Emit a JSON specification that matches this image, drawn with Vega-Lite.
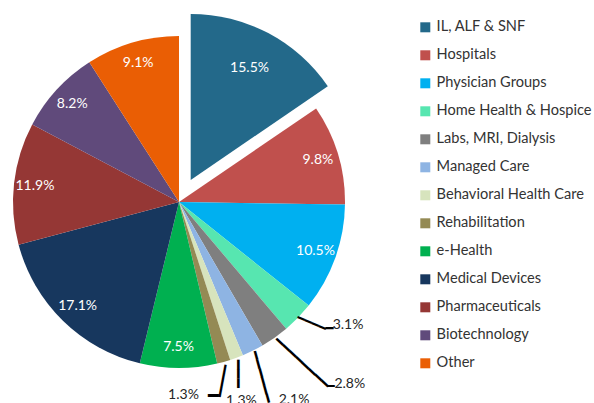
{
  "$schema": "https://vega.github.io/schema/vega-lite/v6.json",
  "width": 358,
  "height": 404,
  "autosize": {"type": "none"},
  "padding": {"left": 0, "top": 0, "right": 236, "bottom": 0},
  "background": "#ffffff",
  "config": {"view": {"stroke": null}, "font": "Lato"},
  "data": {"values": [
    {"idx": 1, "sector": "IL, ALF & SNF", "share": 0.155},
    {"idx": 2, "sector": "Hospitals", "share": 0.098},
    {"idx": 3, "sector": "Physician Groups", "share": 0.105},
    {"idx": 4, "sector": "Home Health & Hospice", "share": 0.031},
    {"idx": 5, "sector": "Labs, MRI, Dialysis", "share": 0.028},
    {"idx": 6, "sector": "Managed Care", "share": 0.021},
    {"idx": 7, "sector": "Behavioral Health Care", "share": 0.013},
    {"idx": 8, "sector": "Rehabilitation", "share": 0.013},
    {"idx": 9, "sector": "e-Health", "share": 0.075},
    {"idx": 10, "sector": "Medical Devices", "share": 0.171},
    {"idx": 11, "sector": "Pharmaceuticals", "share": 0.119},
    {"idx": 12, "sector": "Biotechnology", "share": 0.082},
    {"idx": 13, "sector": "Other", "share": 0.091}
  ]},
  "encoding": {
    "theta": {"field": "share", "type": "quantitative", "stack": true},
    "order": {"field": "idx", "type": "quantitative"}
  },
  "layer": [
    {
      "mark": {"type": "arc", "outerRadius": 166},
      "encoding": {
        "color": {
          "field": "sector", "type": "nominal",
          "scale": {
            "domain": ["IL, ALF & SNF", "Hospitals", "Physician Groups", "Home Health & Hospice", "Labs, MRI, Dialysis", "Managed Care", "Behavioral Health Care", "Rehabilitation", "e-Health", "Medical Devices", "Pharmaceuticals", "Biotechnology", "Other"],
            "range": ["#23698A", "#C0504D", "#00B0F0", "#57E6B0", "#7F7F7F", "#8EB4E3", "#D7E4BD", "#948A54", "#00B050", "#17375E", "#953735", "#604A7B", "#EA5E04"]
          },
          "legend": {
            "title": null,
            "orient": "none",
            "legendX": 418,
            "legendY": 20,
            "symbolType": "square",
            "symbolSize": 100,
            "symbolStrokeWidth": 0,
            "symbolOpacity": 1,
            "labelFont": "Lato",
            "labelFontSize": 14.6,
            "labelColor": "#333333",
            "labelOffset": 4,
            "rowPadding": 13,
            "labelLimit": 300
          }
        },
        "opacity": {"condition": {"test": "datum.sector === 'IL, ALF & SNF'", "value": 0}, "value": 1}
      }
    },
    {
      "mark": {"type": "arc", "outerRadius": 166, "xOffset": 11.7, "yOffset": -22.1},
      "encoding": {
        "color": {"field": "sector", "type": "nominal", "legend": null},
        "opacity": {"condition": {"test": "datum.sector === 'IL, ALF & SNF'", "value": 1}, "value": 0}
      }
    },
    {
      "mark": {"type": "text", "font": "Lato", "fontSize": 14, "color": "#ffffff", "dx": 11.7, "dy": -22.1},
      "encoding": {
        "radius": {"value": 126},
        "text": {"field": "share", "type": "quantitative", "format": ".1%"},
        "opacity": {"condition": {"test": "datum.sector === 'IL, ALF & SNF'", "value": 1}, "value": 0}
      }
    },
    {
      "mark": {"type": "text", "font": "Lato", "fontSize": 14, "color": "#ffffff"},
      "encoding": {
        "radius": {"value": 145},
        "text": {"field": "share", "type": "quantitative", "format": ".1%"},
        "opacity": {"condition": {"test": "datum.share > 0.05 && datum.sector !== 'IL, ALF & SNF'", "value": 1}, "value": 0}
      }
    },
    {
      "mark": {"type": "text", "font": "Lato", "fontSize": 14, "color": "#262626", "dx": 40, "dy": -2},
      "encoding": {
        "radius": {"value": 180},
        "text": {"field": "share", "type": "quantitative", "format": ".1%"},
        "opacity": {"condition": {"test": "datum.sector === 'Home Health & Hospice'", "value": 1}, "value": 0}
      }
    },
    {
      "mark": {"type": "text", "font": "Lato", "fontSize": 14, "color": "#262626", "dx": 67, "dy": 35},
      "encoding": {
        "radius": {"value": 180},
        "text": {"field": "share", "type": "quantitative", "format": ".1%"},
        "opacity": {"condition": {"test": "datum.sector === 'Labs, MRI, Dialysis'", "value": 1}, "value": 0}
      }
    },
    {
      "mark": {"type": "text", "font": "Lato", "fontSize": 14, "color": "#262626", "dx": 35, "dy": 37},
      "encoding": {
        "radius": {"value": 180},
        "text": {"field": "share", "type": "quantitative", "format": ".1%"},
        "opacity": {"condition": {"test": "datum.sector === 'Managed Care'", "value": 1}, "value": 0}
      }
    },
    {
      "mark": {"type": "text", "font": "Lato", "fontSize": 14, "color": "#262626", "dx": 0, "dy": 30},
      "encoding": {
        "radius": {"value": 180},
        "text": {"field": "share", "type": "quantitative", "format": ".1%"},
        "opacity": {"condition": {"test": "datum.sector === 'Behavioral Health Care'", "value": 1}, "value": 0}
      }
    },
    {
      "mark": {"type": "text", "font": "Lato", "fontSize": 14, "color": "#262626", "dx": -44, "dy": 20},
      "encoding": {
        "radius": {"value": 180},
        "text": {"field": "share", "type": "quantitative", "format": ".1%"},
        "opacity": {"condition": {"test": "datum.sector === 'Rehabilitation'", "value": 1}, "value": 0}
      }
    },
    {
      "mark": {"type": "text", "font": "DejaVu Sans", "fontSize": 12.7, "color": "#000000", "angle": 23.2, "dx": 1.6, "dy": -5.15, "text": "━━━━"},
      "encoding": {
        "radius": {"value": 180},
        "opacity": {"condition": {"test": "datum.sector === 'Home Health & Hospice'", "value": 1}, "value": 0}
      }
    },
    {
      "mark": {"type": "text", "font": "DejaVu Sans", "fontSize": 13.3, "color": "#000000", "dx": 21.5, "dy": 1.9, "text": "━"},
      "encoding": {
        "radius": {"value": 180},
        "opacity": {"condition": {"test": "datum.sector === 'Home Health & Hospice'", "value": 1}, "value": 0}
      }
    },
    {
      "mark": {"type": "text", "font": "DejaVu Sans", "fontSize": 14.6, "color": "#000000", "angle": 42.9, "dx": 23.57, "dy": -2.25, "text": "━━━━━━━━"},
      "encoding": {
        "radius": {"value": 180},
        "opacity": {"condition": {"test": "datum.sector === 'Labs, MRI, Dialysis'", "value": 1}, "value": 0}
      }
    },
    {
      "mark": {"type": "text", "font": "DejaVu Sans", "fontSize": 11.6, "color": "#000000", "dx": 48.5, "dy": 38.4, "text": "━"},
      "encoding": {
        "radius": {"value": 180},
        "opacity": {"condition": {"test": "datum.sector === 'Labs, MRI, Dialysis'", "value": 1}, "value": 0}
      }
    },
    {
      "mark": {"type": "text", "font": "DejaVu Sans", "fontSize": 14.7, "color": "#000000", "angle": 74.6, "dx": 13.88, "dy": 1.96, "text": "━━━━━━"},
      "encoding": {
        "radius": {"value": 180},
        "opacity": {"condition": {"test": "datum.sector === 'Managed Care'", "value": 1}, "value": 0}
      }
    },
    {
      "mark": {"type": "text", "font": "DejaVu Sans", "fontSize": 15.5, "color": "#000000", "angle": 90, "dx": 2.9, "dy": 3.6, "text": "━━━"},
      "encoding": {
        "radius": {"value": 180},
        "opacity": {"condition": {"test": "datum.sector === 'Behavioral Health Care'", "value": 1}, "value": 0}
      }
    },
    {
      "mark": {"type": "text", "font": "DejaVu Sans", "fontSize": 13.5, "color": "#000000", "angle": 100.6, "dx": 6.32, "dy": 4.41, "text": "━━━━"},
      "encoding": {
        "radius": {"value": 180},
        "opacity": {"condition": {"test": "datum.sector === 'Rehabilitation'", "value": 1}, "value": 0}
      }
    },
    {
      "mark": {"type": "text", "font": "DejaVu Sans", "fontSize": 18, "color": "#000000", "dx": -14, "dy": 21.4, "text": "━"},
      "encoding": {
        "radius": {"value": 180},
        "opacity": {"condition": {"test": "datum.sector === 'Rehabilitation'", "value": 1}, "value": 0}
      }
    }
  ]
}
